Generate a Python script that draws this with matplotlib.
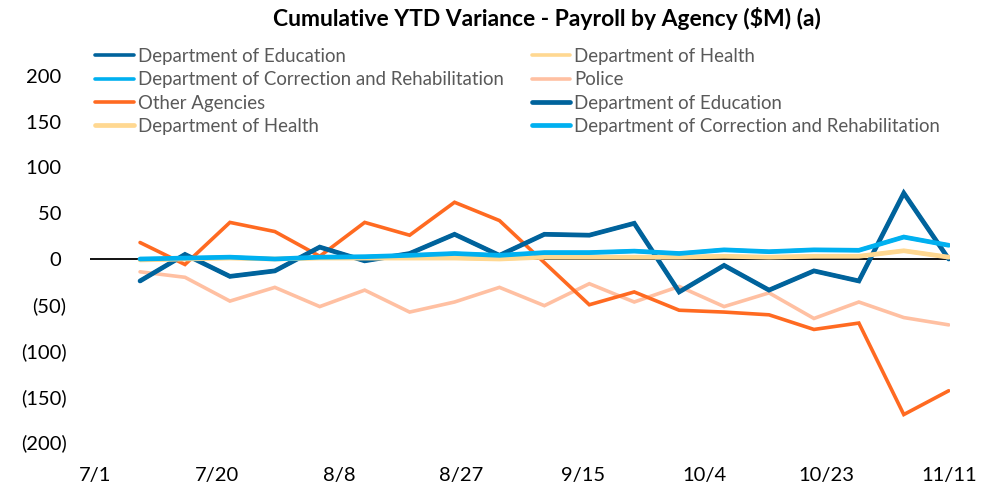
import matplotlib
matplotlib.use("Agg")
import matplotlib.pyplot as plt
from matplotlib.lines import Line2D
import datetime as dt

plt.rcParams['font.family'] = ['Lato', 'DejaVu Sans']

# ---- data ----
dates = ["2019-07-08", "2019-07-15", "2019-07-22", "2019-07-29", "2019-08-05",
         "2019-08-12", "2019-08-19", "2019-08-26", "2019-09-02", "2019-09-09",
         "2019-09-16", "2019-09-23", "2019-09-30", "2019-10-07", "2019-10-14",
         "2019-10-21", "2019-10-28", "2019-11-04", "2019-11-11"]
education = [-24, 5, -19, -13, 13, -2, 6, 27, 4, 27, 26, 39, -36, -7, -34, -13, -24, 72, 0]
health = [-1, 0, 1, 0, 1, 1, 1, 1, 0, 2, 2, 2, 2, 3, 2, 3, 3, 9, 2]
correction = [0, 1, 2, 0, 2, 2.5, 4, 6, 4, 7, 7, 8.6, 6, 10, 8, 10, 9.5, 24, 15]
police = [-14, -20, -46, -31, -52, -34, -58, -47, -31, -51, -27, -47, -30, -52, -37, -65, -47, -64, -72]
other = [18, -6, 40, 30, 3, 40, 26, 62, 42, -4, -50, -36, -56, -58, -61, -77, -70, -170, -144]

tick_dates = ["2019-07-01", "2019-07-20", "2019-08-08", "2019-08-27", "2019-09-15",
              "2019-10-04", "2019-10-23", "2019-11-11"]
tick_labels = ["7/1", "7/20", "8/8", "8/27", "9/15", "10/4", "10/23", "11/11"]
y_ticks = [-200, -150, -100, -50, 0, 50, 100, 150, 200]

title = "Cumulative YTD Variance - Payroll by Agency ($M) (a)"

C_EDU = "#00639C"
C_HEALTH = "#FFD891"
C_CORR = "#00B0F0"
C_POLICE = "#FFC0A2"
C_OTHER = "#FF6A21"

# ---- figure ----
W, H = 994, 487
fig = plt.figure(figsize=(W / 100, H / 100), dpi=100)
ax = fig.add_axes([90 / W, 1 - 442 / H, (950 - 90) / W, (442 - 76) / H])

x = [dt.datetime.strptime(d, "%Y-%m-%d") for d in dates]
xt = [dt.datetime.strptime(d, "%Y-%m-%d") for d in tick_dates]

ax.axhline(0, color="black", lw=1.3, zorder=1)

thin = 2.6
thick = 3.4
series = [
    ("Department of Education", education, C_EDU, thin),
    ("Department of Health", health, C_HEALTH, thin),
    ("Department of Correction and Rehabilitation", correction, C_CORR, thin),
    ("Police", police, C_POLICE, thin),
    ("Other Agencies", other, C_OTHER, thin),
    ("Department of Education", education, C_EDU, thick),
    ("Department of Health", health, C_HEALTH, thick),
    ("Department of Correction and Rehabilitation", correction, C_CORR, thick),
]
handles = []
for lab, vals, col, lw in series:
    ln, = ax.plot(x, vals, color=col, lw=lw, label=lab, solid_capstyle="round",
                  solid_joinstyle="miter", zorder=2)
    handles.append(ln)

x0 = xt[0] - dt.timedelta(days=0.8)
x1 = xt[-1] + dt.timedelta(days=0.2)
ax.set_xlim(x0, x1)
ax.set_ylim(-200, 200)

ax.set_xticks(xt)
ax.set_xticklabels(tick_labels)

def fmt(v):
    if v < 0:
        return f"({abs(v)})"
    return f"{v} "

ax.set_yticks(y_ticks)
ax.set_yticklabels([fmt(v) for v in y_ticks])

for s in ax.spines.values():
    s.set_visible(False)
ax.tick_params(axis="both", length=0, labelsize=14.5, colors="black")
ax.tick_params(axis="y", pad=17)
ax.tick_params(axis="x", pad=18)

# legend (row-wise order in two columns)
order = handles[0::2] + handles[1::2]
labels = [h.get_label() for h in order]
leg = fig.legend(order, labels, ncol=2, frameon=False,
                 loc="upper left", bbox_to_anchor=(95 / W, 1 - 48 / H),
                 fontsize=13.4, handlelength=2.08, handletextpad=0.22,
                 columnspacing=1.5, labelspacing=0.34, borderpad=0,
                 borderaxespad=0)
for t in leg.get_texts():
    t.set_color("#595959")

fig.text(547 / W, 1 - 18 / H, title, ha="center", va="center",
         fontsize=16.5, fontweight="bold")

fig.savefig("out.png", dpi=100)
